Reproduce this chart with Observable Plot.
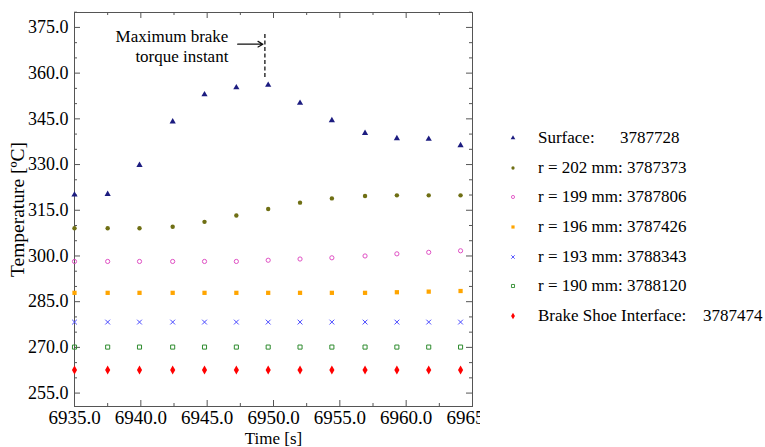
<!DOCTYPE html>
<html>
<head>
<meta charset="utf-8">
<script src="https://cdn.jsdelivr.net/npm/d3@7"></script>
<script src="https://cdn.jsdelivr.net/npm/@observablehq/plot@0.6"></script>
<style>
  html, body { margin: 0; padding: 0; background: #fff; }
  #wrap { position: relative; width: 765px; height: 447px; font-family: "Liberation Serif", "DejaVu Serif", serif; }
  #wrap svg text { font-family: "Liberation Serif", "DejaVu Serif", serif; }
  g[aria-label="y-axis label"] text { font-size: 19.5px; }
  g[aria-label="x-axis label"] text { font-size: 17px; }
  #legend { position: absolute; left: 505px; top: 123px; font-size: 17px; color: #000; }
  .row { height: 29.7px; display: flex; align-items: center; white-space: pre; }
  .row svg { width: 16px; height: 16px; margin-right: 17px; }
  .nm { display: inline-block; white-space: pre; }
</style>
</head>
<body>
<div id="wrap"></div>
<script>
// ---- data ----
const times = [6935.0, 6937.5, 6939.9, 6942.4, 6944.8, 6947.2, 6949.6, 6952.0, 6954.4, 6956.9, 6959.3, 6961.7, 6964.1];
const surface = [320.1, 320.3, 329.8, 344.1, 353.0, 355.3, 356.1, 350.2, 344.5, 340.3, 338.6, 338.4, 336.3];
const r202 = [309.1, 309.1, 309.1, 309.6, 311.2, 313.3, 315.4, 317.5, 318.9, 319.7, 319.9, 319.9, 319.9];
const r199 = [298.2, 298.2, 298.2, 298.2, 298.2, 298.2, 298.6, 299.0, 299.4, 300.0, 300.7, 301.2, 301.7];
const r196 = [287.9, 287.9, 287.9, 287.9, 287.9, 287.9, 287.9, 287.9, 287.9, 287.9, 288.1, 288.3, 288.5];
const r193 = [278.3, 278.3, 278.3, 278.3, 278.3, 278.3, 278.3, 278.3, 278.3, 278.3, 278.3, 278.3, 278.3];
const r190 = [270.1, 270.1, 270.1, 270.1, 270.1, 270.1, 270.1, 270.1, 270.1, 270.1, 270.1, 270.1, 270.1];
const shoe = [262.6, 262.6, 262.6, 262.6, 262.6, 262.6, 262.6, 262.6, 262.6, 262.6, 262.6, 262.6, 262.6];

const seriesNames = ["Surface:", "r = 202 mm:", "r = 199 mm:", "r = 196 mm:", "r = 193 mm:", "r = 190 mm:", "Brake Shoe Interface:"];
const seriesIds = ["3787728", "3787373", "3787806", "3787426", "3788343", "3788120", "3787474"];

const yMajor = [255, 270, 285, 300, 315, 330, 345, 360, 375];
const yMinor = [260, 265, 275, 280, 290, 295, 305, 310, 320, 325, 335, 340, 350, 355, 365, 370, 380];
const xMajor = [6935, 6940, 6945, 6950, 6955, 6960, 6965];
const xMinor = [6937.5, 6942.5, 6947.5, 6952.5, 6957.5, 6962.5];

const annoText = [{x: 6946.6, y: 368.9, text: "Maximum brake\ntorque instant"}];
const annoArrow = [{x1: 6947.3, x2: 6949.2, y: 369.5}];
const annoRule = [{x: 6949.35, y1: 372.7, y2: 358.3}];

// ---- styles ----
const styles = [
  {symbol: "triangle", fill: "#1c1c80", stroke: "none", r: 2.3},
  {symbol: "circle", fill: "#6f6f14", stroke: "none", r: 2.2},
  {symbol: "circle", fill: "none", stroke: "#e050c4", r: 2.1},
  {symbol: "square", fill: "#ffa500", stroke: "none", r: 2.4},
  {symbol: "times", fill: "none", stroke: "#4a4aff", r: 2.3},
  {symbol: "square", fill: "none", stroke: "#2e8b2e", r: 2.3},
  {symbol: "diamond", fill: "#ff0000", stroke: "none", r: 2.7}
];
const seriesValues = [surface, r202, r199, r196, r193, r190, shoe];

const W = 480, H = 447, ML = 74, MR = 8, MT = 12, MB = 41;
const FW = W - ML - MR, FH = H - MT - MB;
const tickCol = "#555";

const dotMarks = seriesValues.map((vals, i) => {
  const s = styles[i];
  const data = times.map((t, j) => ({t, v: vals[j]}));
  return Plot.dot(data, {
    x: "t", y: "v", symbol: s.symbol, r: s.r,
    fill: s.fill, stroke: s.stroke, strokeWidth: s.stroke === "none" ? 0 : 1
  });
});

const plot = Plot.plot({
  width: W, height: H,
  marginLeft: ML, marginRight: MR, marginTop: MT, marginBottom: MB,
  style: {background: "#fff", color: "#000", fontFamily: "Liberation Serif, DejaVu Serif, serif"},
  x: {domain: [6935, 6965]},
  y: {domain: [250.6, 379.9]},
  marks: [
    Plot.frame({stroke: tickCol, strokeWidth: 1}),
    // inward ticks
    Plot.tickY(yMajor, {y: d => d, insetRight: FW - 6, stroke: tickCol}),
    Plot.tickY(yMajor, {y: d => d, insetLeft: FW - 6, stroke: tickCol}),
    Plot.tickY(yMinor, {y: d => d, insetRight: FW - 3, stroke: tickCol}),
    Plot.tickY(yMinor, {y: d => d, insetLeft: FW - 3, stroke: tickCol}),
    Plot.tickX(xMajor, {x: d => d, insetTop: FH - 6, stroke: tickCol}),
    Plot.tickX(xMajor, {x: d => d, insetBottom: FH - 6, stroke: tickCol}),
    Plot.tickX(xMinor, {x: d => d, insetTop: FH - 3, stroke: tickCol}),
    Plot.tickX(xMinor, {x: d => d, insetBottom: FH - 3, stroke: tickCol}),
    Plot.axisY(yMajor, {tickSize: 0, tickPadding: 6, tickFormat: d3.format(".1f"), fontSize: 18,
      label: "Temperature [ºC]", labelAnchor: "center", labelArrow: "none", labelOffset: 64}),
    Plot.axisX(xMajor, {tickSize: 0, tickPadding: 4, tickFormat: d3.format(".1f"), fontSize: 19,
      label: "Time [s]", labelAnchor: "center", labelArrow: "none", labelOffset: 37.5}),
    ...dotMarks,
    Plot.ruleX(annoRule, {x: "x", y1: "y1", y2: "y2", stroke: "#333", strokeWidth: 1.5, strokeDasharray: "4,2.5"}),
    Plot.arrow(annoArrow, {x1: "x1", x2: "x2", y1: "y", y2: "y", stroke: "#111", strokeWidth: 1.2, headLength: 7}),
    Plot.text(annoText, {x: "x", y: "y", text: "text", textAnchor: "end", lineAnchor: "middle", lineHeight: 1.18, fontSize: 17, fill: "#000"})
  ]
});

const wrap = document.getElementById("wrap");
wrap.appendChild(plot);

// ---- legend ----
const legend = document.createElement("div");
legend.id = "legend";
const symMap = {triangle: d3.symbolTriangle, circle: d3.symbolCircle, square: d3.symbolSquare, times: d3.symbolTimes, diamond: d3.symbolDiamond};
const nameWidths = [82, null, null, null, null, null, 165];
seriesNames.forEach((name, i) => {
  const s = styles[i];
  const row = document.createElement("div");
  row.className = "row";
  const svg = d3.create("svg").attr("viewBox", "-8 -8 16 16");
  const rr = s.r * 0.75;
  svg.append("path")
    .attr("d", d3.symbol(symMap[s.symbol], rr * rr * Math.PI)())
    .attr("fill", s.fill).attr("stroke", s.stroke).attr("stroke-width", 0.9);
  row.appendChild(svg.node());
  const nm = document.createElement("span");
  nm.className = "nm";
  nm.textContent = name + (nameWidths[i] ? "" : "\u00a0");
  if (nameWidths[i]) nm.style.width = nameWidths[i] + "px";
  row.appendChild(nm);
  const id = document.createElement("span");
  id.textContent = seriesIds[i];
  row.appendChild(id);
  legend.appendChild(row);
});
wrap.appendChild(legend);
</script>
</body>
</html>
